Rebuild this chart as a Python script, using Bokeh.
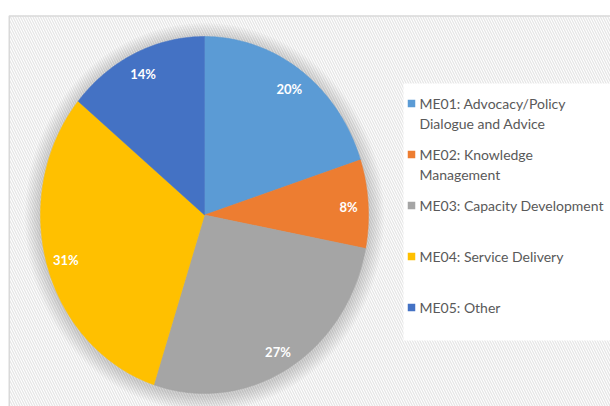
import numpy as np
from bokeh.plotting import figure
from bokeh.models import Range1d
from bokeh.embed import file_html
from bokeh.resources import INLINE
from bokeh.core.properties import value

# ---- data ----
categories = [
    "ME01: Advocacy/Policy\nDialogue and Advice",
    "ME02: Knowledge\nManagement",
    "ME03: Capacity Development",
    "ME04: Service Delivery",
    "ME05: Other",
]
shares = [20, 8, 27, 31, 14]
colors = ["#5b9bd5", "#ed7d31", "#a5a5a5", "#ffc000", "#4472c4"]

# ---- layout (pixel-like coordinates, y downward) ----
W, H = 610, 406
cx, cy = 204.0, 214.5
rx, ry = 164.0, 178.5

p = figure(width=W, height=H, x_range=Range1d(0, W), y_range=Range1d(H, 0),
           output_backend="svg", toolbar_location=None, min_border=0,
           x_axis_type=None, y_axis_type=None)
p.grid.visible = False
p.outline_line_color = None
p.background_fill_color = "white"
p.border_fill_color = "white"

# chart area with hatched background
p.quad(left=[8.75], right=[W + 5], top=[15.5], bottom=[H + 5],
       fill_color="white", line_color="#d9d9d9", line_width=1.5,
       hatch_pattern="\\", hatch_color="#e6e6e6", hatch_scale=5, hatch_weight=1.3)

# soft shadow behind pie
for k in range(1, 8):
    p.ellipse(x=[cx], y=[cy + 2], width=[2 * rx + 2 * k * 2.2], height=[2 * ry + 2 * k * 2.2],
              fill_color="black", fill_alpha=0.025, line_color=None)

# pie slices
frac = np.array(shares, dtype=float) / sum(shares)
ends = np.cumsum(frac) * 2 * np.pi
starts = ends - frac * 2 * np.pi
xs, ys = [], []
for a0, a1 in zip(starts, ends):
    t = np.linspace(a0, a1, max(int((a1 - a0) * 80), 10))
    xs.append(np.concatenate([[cx], cx + rx * np.sin(t)]).tolist())
    ys.append(np.concatenate([[cy], cy - ry * np.cos(t)]).tolist())
p.patches(xs, ys, fill_color=colors, line_color=colors, line_width=0.5)

# data labels
mid = (starts + ends) / 2
lx = cx + 0.88 * rx * np.sin(mid)
ly = cy - 0.88 * ry * np.cos(mid) + 1.5
p.text(x=lx.tolist(), y=ly.tolist(), text=[f"{s}%" for s in shares],
       text_color="white", text_font=value("Lato"), text_font_style="bold",
       text_font_size="13px", text_align="center", text_baseline="middle")

# legend
p.quad(left=[403], right=[W + 5], top=[83], bottom=[340],
       fill_color="white", line_color=None)
leg_y0, pitch, line_h = 103.0, 51.0, 19.5
sq_x, txt_x = 411.0, 419.0
sq_y = [leg_y0 + i * pitch for i in range(len(categories))]
p.rect(x=[sq_x] * len(categories), y=sq_y, width=7.5, height=7.5,
       fill_color=colors, line_color=None)
tx, ty, tt = [], [], []
for i, cat in enumerate(categories):
    for j, line in enumerate(cat.split("\n")):
        tx.append(txt_x)
        ty.append(sq_y[i] + j * line_h)
        tt.append(line)
p.text(x=tx, y=ty, text=tt, text_color="#595959", text_font=value("Lato"),
       text_font_size="14px", text_align="left", text_baseline="middle")

open("out.html", "w").write(file_html(p, INLINE))
